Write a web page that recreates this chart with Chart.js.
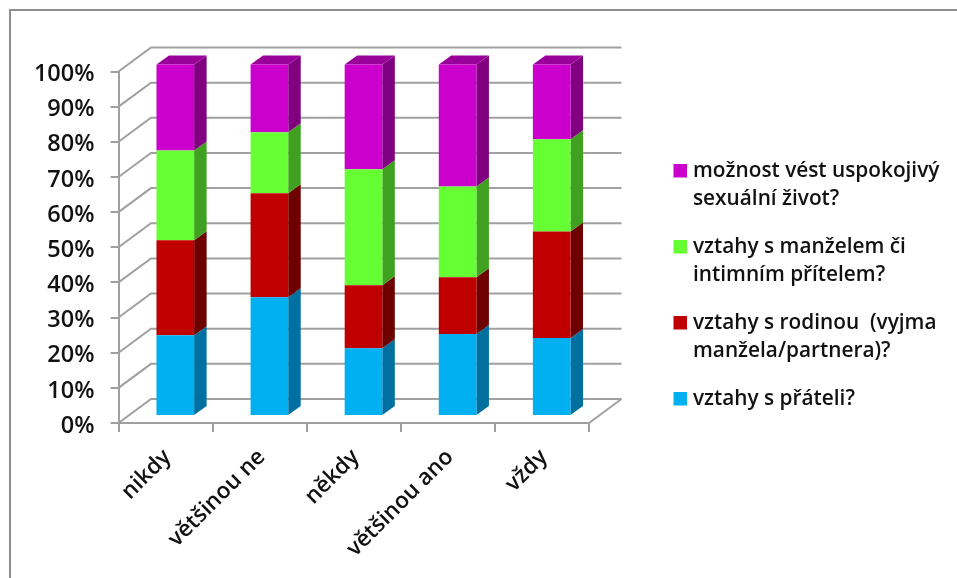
<!DOCTYPE html>
<html lang="cs">
<head>
<meta charset="utf-8">
<title>Stacked bars</title>
<script src="https://cdn.jsdelivr.net/npm/chart.js@4"></script>
<style>
  html, body { margin: 0; padding: 0; background: #fff; overflow: hidden; }
  #wrap { position: relative; width: 957px; height: 578px; }
  #frame { position: absolute; left: 9px; top: 9px; right: 0; bottom: 0;
           border-top: 2px solid #8e8e8e; border-left: 2px solid #8e8e8e; }
  canvas { position: absolute; left: 0; top: 0; }
</style>
</head>
<body>
<div id="wrap">
  <div id="frame"></div>
  <canvas id="chart" width="957" height="578"></canvas>
</div>
<script>
// ==========================
// DATA
// ==========================
const categories = ["nikdy", "většinou ne", "někdy", "většinou ano", "vždy"];

const pratele = [23.0, 33.8, 19.3, 23.3, 22.2];
const rodina  = [27.0, 29.6, 17.9, 16.2, 30.3];
const manzel  = [25.5, 17.3, 33.0, 25.8, 26.2];
const sex     = [24.5, 19.3, 29.8, 34.7, 21.3];

const seriesLabels = [
  ["možnost vést uspokojivý", "sexuální život?"],
  ["vztahy s manželem či", "intimním přítelem?"],
  ["vztahy s rodinou  (vyjma", "manžela/partnera)?"],
  ["vztahy s přáteli?"]
];

// ==========================
// STYLE
// ==========================
const GRID = "#a0a0a0";
const FONT = "'Open Sans', 'Noto Sans', sans-serif";
const colors = { blue: "#00b0f0", red: "#c00000", green: "#66ff33", pink: "#cc00cc" };
const sideColors = ["#0070a0", "#6e0000", "#40a020", "#800080"];
const TOP_COLOR = "#990099";

// depth of the box and how far the bars sit in from the front edge
const WALL = { dx: 32.5, dy: 24 };
const BAR_SHIFT = { dx: 9.75, dy: 7 };
const BAR_DEPTH = { dx: 12.5, dy: 9 };

// ==========================
// 3D PLUGIN
// ==========================
function face(ctx, pts, fill) {
  ctx.fillStyle = fill;
  ctx.beginPath();
  pts.forEach((p, i) => i ? ctx.lineTo(p[0], p[1]) : ctx.moveTo(p[0], p[1]));
  ctx.closePath();
  ctx.fill();
}

const box3d = {
  id: "box3d",
  beforeDatasetsDraw(chart) {
    const { ctx, chartArea: a, scales: { y } } = chart;

    // walls
    ctx.save();
    ctx.strokeStyle = GRID;
    ctx.lineWidth = 2;
    y.ticks.forEach(t => {
      const py = y.getPixelForValue(t.value);
      ctx.beginPath();
      ctx.moveTo(a.left, py);
      ctx.lineTo(a.left + WALL.dx, py - WALL.dy);
      ctx.lineTo(a.right + WALL.dx, py - WALL.dy);
      ctx.stroke();
    });
    ctx.beginPath();
    ctx.moveTo(a.right, a.bottom);
    ctx.lineTo(a.right + WALL.dx, a.bottom - WALL.dy);
    ctx.stroke();
    ctx.restore();

    // everything in the datasets sits a little behind the front edge
    ctx.save();
    ctx.translate(BAR_SHIFT.dx, -BAR_SHIFT.dy);

    const last = chart.data.datasets.length - 1;
    chart.data.datasets.forEach((ds, i) => {
      chart.getDatasetMeta(i).data.forEach(bar => {
        const right = bar.x + bar.width / 2;
        const left = bar.x - bar.width / 2;
        const d = BAR_DEPTH;
        face(ctx, [[right, bar.y], [right + d.dx, bar.y - d.dy],
                   [right + d.dx, bar.base - d.dy], [right, bar.base]], sideColors[i]);
        if (i === last) {
          face(ctx, [[left, bar.y], [left + d.dx, bar.y - d.dy],
                     [right + d.dx, bar.y - d.dy], [right, bar.y]], TOP_COLOR);
        }
      });
    });
  },
  afterDatasetsDraw(chart) {
    chart.ctx.restore();
  }
};

// ==========================
// LEGEND
// ==========================
const legendBox = {
  id: "legendBox",
  afterDraw(chart) {
    const ctx = chart.ctx;
    const rows = [164, 240, 316, 392];
    const swatch = [colors.pink, colors.green, colors.red, colors.blue];
    ctx.save();
    ctx.font = "600 20.8px " + FONT;
    ctx.textBaseline = "middle";
    seriesLabels.forEach((lines, i) => {
      ctx.fillStyle = swatch[i];
      ctx.fillRect(673.5, rows[i], 13.5, 13.5);
      ctx.fillStyle = "#111";
      lines.forEach((txt, k) => ctx.fillText(txt, 693, rows[i] + 7.5 + k * 28));
    });
    ctx.restore();
  }
};

// ==========================
// CHART
// ==========================
function barSet(label, data, color) {
  return {
    label, data,
    backgroundColor: color,
    borderWidth: 0,
    barPercentage: 0.4,
    categoryPercentage: 1,
    clip: false
  };
}

new Chart(document.getElementById("chart").getContext("2d"), {
  type: "bar",
  data: {
    labels: categories,
    datasets: [
      barSet(seriesLabels[3].join(" "), pratele, colors.blue),
      barSet(seriesLabels[2].join(" "), rodina, colors.red),
      barSet(seriesLabels[1].join(" "), manzel, colors.green),
      barSet(seriesLabels[0].join(" "), sex, colors.pink)
    ]
  },
  options: {
    responsive: false,
    animation: false,
    layout: { padding: { top: 71.5, right: 368, left: 0, bottom: 0 } },
    plugins: { legend: { display: false }, tooltip: { enabled: false } },
    scales: {
      x: {
        stacked: true,
        afterFit(s) { s.height = 155; },
        grid: { drawOnChartArea: false, color: GRID, lineWidth: 2, tickLength: 9 },
        border: { color: GRID, width: 2 },
        ticks: {
          color: "#111",
          minRotation: 45,
          maxRotation: 45,
          padding: 12,
          labelOffset: 2,
          font: { family: FONT, size: 22.5, weight: "600" }
        }
      },
      y: {
        stacked: true,
        min: 0,
        max: 100,
        afterFit(s) { s.width = 118.5; },
        grid: { drawOnChartArea: false, color: GRID, lineWidth: 2, tickLength: 8 },
        border: { color: GRID, width: 2 },
        ticks: {
          stepSize: 10,
          color: "#111",
          padding: 16,
          labelOffset: 3,
          callback: v => v + "%",
          font: { family: FONT, size: 23.5, weight: "600" }
        }
      }
    }
  },
  plugins: [box3d, legendBox]
});
</script>
</body>
</html>
